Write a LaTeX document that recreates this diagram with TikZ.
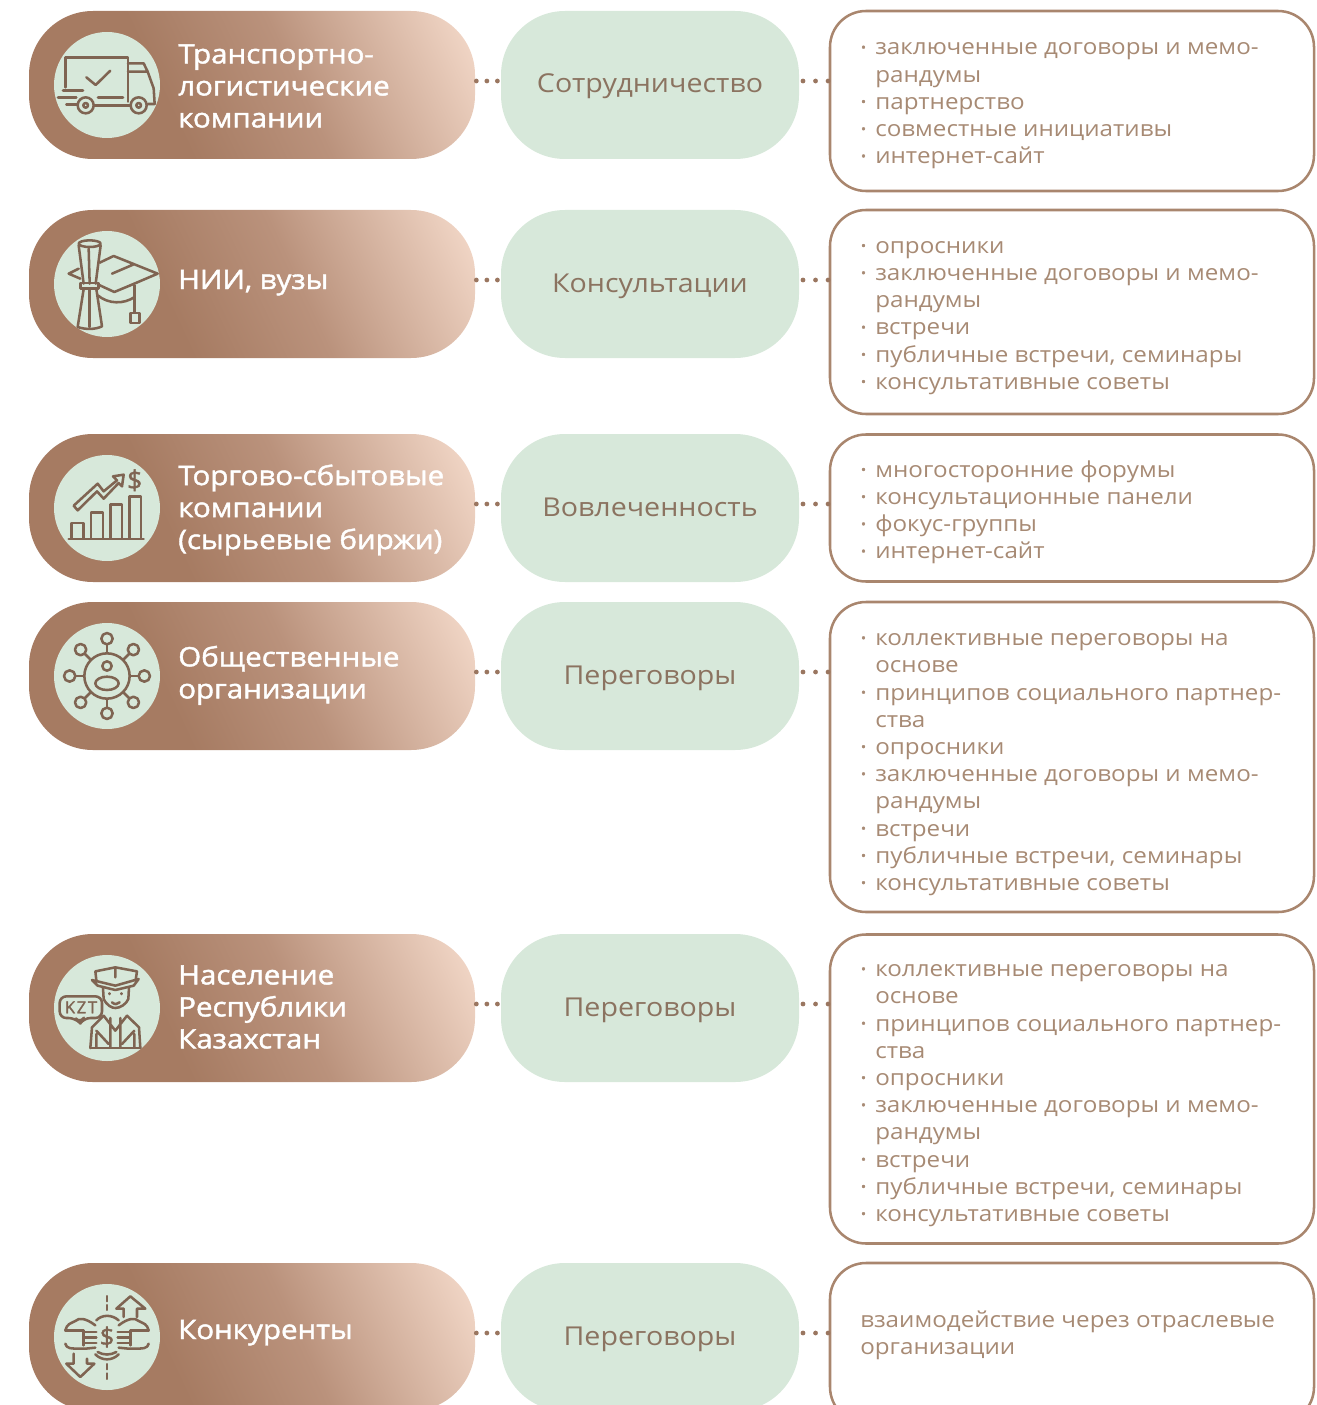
\documentclass[tikz,border=0pt]{standalone}
\usepackage{fontspec}
\setmainfont{Open Sans}[FakeStretch=1.1]
\newfontfamily\pillfont{Open Sans}[FakeStretch=1.1,FakeBold=1.6]
\newfontfamily\iconfont{Open Sans}[FakeBold=1.6]
\newfontfamily\tagfont{Open Sans}[FakeBold=1.6,LetterSpace=10]
\usetikzlibrary{
  arrows.meta,
  positioning,
  shadings,
}
\definecolor{pilldark}{HTML}{A67B62}
\definecolor{pillmid}{HTML}{BA927C}
\definecolor{pilllight}{HTML}{F1D6C6}
\definecolor{softgreen}{HTML}{D7E8DA}
\definecolor{iconbrown}{HTML}{7F6452}
\definecolor{midtext}{HTML}{8B7360}
\definecolor{listtext}{HTML}{A78A74}
\definecolor{boxline}{HTML}{A9866E}
\definecolor{dotbrown}{HTML}{9A7660}
\pgfdeclarehorizontalshading{pillgrad}{100bp}{color(0bp)=(pilldark);color(38bp)=(pilldark);color(56bp)=(pillmid);color(81bp)=(pilllight);color(100bp)=(pilllight)}
\newcommand{\bitem}[1]{\makebox[11.25pt][l]{\pillfont ·}#1}
\newcommand{\bcont}[1]{\hspace*{11.25pt}#1}
\tikzset{
  pill/.style={rectangle,shade,shading=pillgrad,shading angle=25,rounded corners=48pt,minimum width=334.5pt,minimum height=111pt,outer sep=0pt},
  midpill/.style={rectangle,fill=softgreen,rounded corners=48pt,minimum width=223.5pt,minimum height=111pt,outer sep=0pt,text=midtext,text height=14pt,text depth=2pt,font=\fontsize{19.5}{24}\selectfont},
  infobox/.style={rectangle,draw=boxline,line width=1.9pt,rounded corners=27pt,minimum width=363pt,outer sep=0pt},
  infotext/.style={inner sep=0pt,anchor=west,align=left,text=listtext,font=\fontsize{16.5}{20.4}\selectfont},
  pilltext/.style={inner sep=0pt,align=left,text=white,font=\fontsize{20.1}{24}\pillfont},
  badge/.style={circle,fill=softgreen,minimum size=79.5pt,inner sep=0pt,outer sep=0pt},
  dotlink/.style={draw=dotbrown,line width=3.6pt,line cap=round,dash pattern=on 0pt off #1},
  iconline/.style={color=iconbrown,line width=1.9pt,line join=round,line cap=round,x=.25pt,y=-.25pt},
  truckicon/.pic={
    \begin{scope}[iconline,shift={(-262,-255)}]
    \draw (137,262) -- (137,172) -- (325,172) -- (325,305);
    \draw (200,232) -- (228,255) -- (272,212);
    \draw (325,190) -- (372,190) -- (384,215) -- (325,215);
    \draw (384,215) -- (402,265) -- (405,312) -- (385,312);
    \draw (130,272) -- (190,272) (115,293) -- (170,293) (140,314) -- (172,314);
    \draw (235,293) -- (310,293) (224,316) -- (332,316);
    \draw (198,316) circle [radius=24] (198,316) circle [radius=7];
    \draw (357,316) circle [radius=24] (357,316) circle [radius=7];
    \end{scope}
  },
  capicon/.pic={
    \begin{scope}[iconline,shift={(-260,-851)}]
    \draw (238,787) -- (280,767) -- (412,820) -- (330,855) (275,820) -- (338,793);
    \draw (175,805) -- (145,820) -- (180,835) (232,852) -- (282,875) -- (330,855);
    \draw (232,885) .. controls (265,912) and (310,912) .. (343,890);
    \draw (343,855) -- (343,935) (330,968) rectangle (357,938);
    \draw (208,730) ellipse [x radius=33,y radius=10];
    \draw (175,735) -- (190,850) (241,735) -- (226,850) (205,745) -- (208,850);
    \draw (180,848) -- (234,848) -- (234,864) -- (180,864) -- cycle;
    \draw (190,866) -- (172,980) .. controls (195,988) and (225,988) .. (245,978) -- (228,866);
    \draw (208,866) -- (208,980);
    \end{scope}
  },
  charticon/.pic={
    \begin{scope}[iconline,shift={(-260,-235)}]
    \draw (145,328) -- (370,328);
    \draw (153,325) -- (153,280) -- (190,280) -- (190,325);
    \draw (212,325) -- (212,248) -- (248,248) -- (248,325);
    \draw (270,325) -- (270,225) -- (305,225) -- (305,325);
    \draw (328,325) -- (328,200) -- (362,200) -- (362,325);
    \draw (160,228) -- (232,162) -- (250,185) -- (290,152) -- (278,140) -- (310,135) -- (305,170) -- (295,160) -- (250,207) -- (230,185) -- (172,242) -- cycle;
    \node[inner sep=0pt,font=\fontsize{20}{20}\iconfont] (dollarmark) at (343,152) {\$};
    \end{scope}
  },
  crowdicon/.pic={
    \begin{scope}[iconline]
    \draw (0,0) circle [radius=68];
    \foreach \a in {0,45,...,315} {
      \draw (\a:68) -- (\a:95);
      \draw (\a:112) circle [radius=17];
    }
    \draw (0,-30) circle [radius=14];
    \draw (0,22) ellipse [x radius=35,y radius=20];
    \end{scope}
  },
  peopleicon/.pic={
    \begin{scope}[iconline,shift={(-260,-232)}]
    \draw (225,122) -- (285,110) -- (350,122) -- (346,148) (225,122) -- (228,148) (285,110) -- (285,140);
    \draw (215,148) -- (285,165) -- (355,145) -- (340,165) -- (285,178) -- (232,165) -- cycle;
    \draw (248,172) -- (250,205) .. controls (260,225) and (275,232) .. (285,232) .. controls (300,232) and (318,220) .. (324,205) -- (326,170);
    \draw (275,215) .. controls (282,222) and (292,222) .. (298,215);
    \draw (268,188) -- (268,190) (304,188) -- (304,190);
    \draw (210,352) -- (360,352);
    \draw (210,352) -- (215,290) -- (250,255) (360,352) -- (356,290) -- (320,255);
    \draw (270,262) -- (270,350) (300,262) -- (300,350) (250,255) -- (285,300) -- (320,255);
    \draw (228,310) -- (228,350) (342,310) -- (342,350) (228,300) -- (265,340) (342,300) -- (305,340);
    \draw[rounded corners=5pt,fill=softgreen] (118,197) -- (245,197) -- (245,262) -- (190,262) -- (180,278) -- (165,262) -- (118,262) -- cycle;
    \node[inner sep=0pt,font=\fontsize{12.5}{13}\tagfont] (kzttag) at (182,230) {KZT};
    \end{scope}
  },
  rivalicon/.pic={
    \foreach \s in {1,-1} {
      \begin{scope}[iconline,xscale=\s,shift={(-260,-1220)}]
      \draw (135,1200) .. controls (140,1180) and (150,1180) .. (165,1172) .. controls (175,1162) and (195,1162) .. (225,1185);
      \draw (135,1240) .. controls (140,1255) and (145,1255) .. (195,1255) -- (225,1252);
      \draw (190,1205) -- (228,1205) (190,1222) -- (228,1222) (190,1238) -- (228,1238);
      \draw (135,1200) -- (190,1200) (190,1200) -- (190,1245);
      \draw (260,1098) -- (260,1112) (260,1125) -- (260,1138) (260,1302) -- (260,1316) (260,1330) -- (260,1345);
      \end{scope}
    }
    \begin{scope}[iconline,shift={(-260,-1220)}]
    \draw (228,1170) .. controls (245,1152) and (275,1152) .. (295,1170);
    \draw (225,1272) .. controls (245,1292) and (275,1292) .. (295,1272);
    \draw (232,1265) .. controls (250,1275) and (270,1275) .. (288,1265);
    \node[inner sep=0pt,font=\fontsize{19}{19}\iconfont] (coinmark) at (260,1220) {\$};
    \draw (310,1160) -- (310,1135) -- (288,1135) -- (330,1098) -- (375,1135) -- (350,1135) -- (350,1160);
    \draw (160,1270) -- (160,1300) -- (138,1300) -- (180,1340) -- (222,1300) -- (200,1300) -- (200,1285);
    \end{scope}
  },
}
\begin{document}
\begin{tikzpicture}%
\clip (0,0) rectangle (987pt,-1053.75pt);
% rows
\node[pill] (transport) at (189pt,-63.75pt) {};
\node[pill] (science) [below=38.25pt of transport] {};
\node[pill] (trade) [below=57pt of science] {};
\node[pill] (public) [below=15pt of trade] {};
\node[pill] (people) [below=138pt of public] {};
\node[pill] (rivals) [below=135.75pt of people] {};
\foreach \row/\lbl in {transport/Сотрудничество,science/Консультации,trade/Вовлеченность,public/Переговоры,people/Переговоры,rivals/Переговоры} {
  \node[midpill] (\row mid) [right=19.5pt of \row] {\lbl};
  \draw[dotlink=7.9pt,shorten <=1pt] ([yshift=3pt]\row.east) -- ([yshift=3pt]\row mid.west);
  \node[badge] (\row badge) [right=18.75pt of \row.west] {};
}
% icons
\pic at (transportbadge) {truckicon};
\pic at (sciencebadge) {capicon};
\pic at (tradebadge) {charticon};
\pic at (publicbadge) {crowdicon};
\pic at (peoplebadge) {peopleicon};
\pic at (rivalsbadge) {rivalicon};
% labels
\node[pilltext] (transportlabel) [right=13.5pt of transportbadge,yshift=-.75pt] {Транспортно-\\логистические\\компании};
\node[pilltext] (sciencelabel) [right=13.5pt of sciencebadge,yshift=1pt] {НИИ, вузы};
\node[pilltext] (tradelabel) [right=13.5pt of tradebadge,yshift=-1.5pt] {Торгово-сбытовые\\компании\\(сырьевые биржи)};
\node[pilltext] (publiclabel) [right=13.5pt of publicbadge,yshift=.5pt] {Общественные\\организации};
\node[pilltext] (peoplelabel) [right=13.5pt of peoplebadge,yshift=.75pt] {Население\\Республики\\Казахстан};
\node[pilltext] (rivalslabel) [right=13.5pt of rivalsbadge,yshift=3.25pt] {Конкуренты};
% boxes on the right
\node[infobox,minimum height=135pt] (transportbox) [right=23.25pt of transportmid,yshift=-12pt] {};
\node[infobox,minimum height=153pt] (sciencebox) [right=23.25pt of sciencemid,yshift=-21pt] {};
\node[infobox,minimum height=110.25pt] (tradebox) [right=23.25pt of trademid] {};
\node[infobox,minimum height=232.5pt] (publicbox) [right=23.25pt of publicmid,yshift=-60.75pt] {};
\node[infobox,minimum height=231.75pt] (peoplebox) [right=23.25pt of peoplemid,yshift=-60.75pt] {};
\node[infobox,minimum height=120pt] (rivalsbox) [right=23.25pt of rivalsmid,yshift=-4.5pt] {};
\foreach \row in {transport,science,trade,public,people,rivals} {
  \draw[dotlink=9.4pt,shorten <=3pt] ([yshift=3pt]\row mid.east) -- ([yshift=3pt]\row mid.east -| \row box.west);
}
\node[infotext] (transportlist) [right=22.5pt of transportbox.west,yshift=-3.75pt] {\bitem{заключенные договоры и мемо-}\\\bcont{рандумы}\\\bitem{партнерство}\\\bitem{совместные инициативы}\\\bitem{интернет-сайт}};
\node[infotext] (sciencelist) [right=22.5pt of sciencebox.west,yshift=-4.5pt] {\bitem{опросники}\\\bitem{заключенные договоры и мемо-}\\\bcont{рандумы}\\\bitem{встречи}\\\bitem{публичные встречи, семинары}\\\bitem{консультативные советы}};
\node[infotext] (tradelist) [right=22.5pt of tradebox.west,yshift=-3.25pt] {\bitem{многосторонние форумы}\\\bitem{консультационные панели}\\\bitem{фокус-группы}\\\bitem{интернет-сайт}};
\node[infotext] (publiclist) [right=22.5pt of publicbox.west,yshift=-5.75pt] {\bitem{коллективные переговоры на}\\\bcont{основе}\\\bitem{принципов социального партнер-}\\\bcont{ства}\\\bitem{опросники}\\\bitem{заключенные договоры и мемо-}\\\bcont{рандумы}\\\bitem{встречи}\\\bitem{публичные встречи, семинары}\\\bitem{консультативные советы}};
\node[infotext] (peoplelist) [right=22.5pt of peoplebox.west,yshift=-5pt] {\bitem{коллективные переговоры на}\\\bcont{основе}\\\bitem{принципов социального партнер-}\\\bcont{ства}\\\bitem{опросники}\\\bitem{заключенные договоры и мемо-}\\\bcont{рандумы}\\\bitem{встречи}\\\bitem{публичные встречи, семинары}\\\bitem{консультативные советы}};
\node[infotext] (rivalslist) [right=22.5pt of rivalsbox.west,yshift=6pt] {взаимодействие через отраслевые\\организации};
\end{tikzpicture}
\end{document}
